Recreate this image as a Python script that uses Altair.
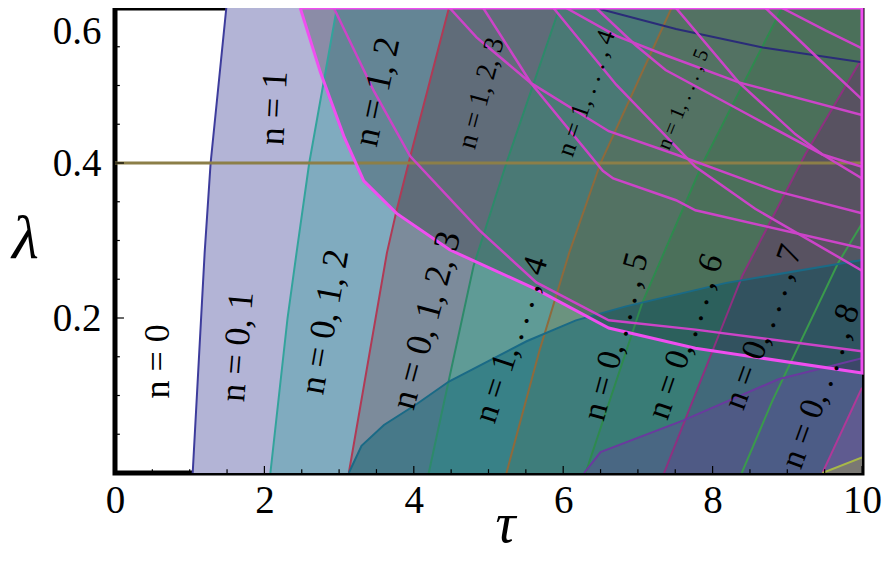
import altair as alt
import pandas as pd

# ---------------- axes / ticks ----------------
X_MAJOR = [0, 2, 4, 6, 8, 10]
X_MINOR = [0.5, 1, 1.5, 2.5, 3, 3.5, 4.5, 5, 5.5, 6.5, 7, 7.5, 8.5, 9, 9.5]
Y_MAJOR = [0.2, 0.4, 0.6]
Y_MINOR = [0.05, 0.1, 0.15, 0.25, 0.3, 0.35, 0.45, 0.5, 0.55]
TAU_MAX = 10.0
LAM_MAX = 0.6

# ---------------- band boundaries (tau read at lambda samples) ----------------
C1_LAM = [0, 0.284, 0.4, 0.6];          C1_TAU = [1.04, 1.2, 1.28, 1.49]
C2_LAM = [0, 0.2, 0.284, 0.4, 0.6];     C2_TAU = [2.08, 2.31, 2.43, 2.6, 2.97]
C3_LAM = [0, 0.284, 0.339, 0.4, 0.6];   C3_TAU = [3.13, 3.64, 3.77, 3.93, 4.47]
C4_LAM = [0, 0.267, 0.4, 0.6];          C4_TAU = [4.2, 4.8, 5.24, 5.95]
C5_LAM = [0, 0.157, 0.284, 0.4, 0.6];   C5_TAU = [5.24, 5.68, 6.08, 6.5, 7.45]
C6_LAM = [0, 0.22, 0.4, 0.6];           C6_TAU = [6.3, 7.06, 7.87, 8.93]
C7_LAM = [0, 0.255, 0.411, 0.535];      C7_TAU = [7.35, 8.4, 9.24, 10.0]
C8_LAM = [0, 0.093, 0.271, 0.322];      C8_TAU = [8.39, 8.8, 9.68, 10.0]
C9_LAM = [0, 0.11];                     C9_TAU = [9.47, 10.0]
BAND_CURVES = [(C1_TAU, C1_LAM), (C2_TAU, C2_LAM), (C3_TAU, C3_LAM), (C4_TAU, C4_LAM),
               (C5_TAU, C5_LAM), (C6_TAU, C6_LAM), (C7_TAU, C7_LAM), (C8_TAU, C8_LAM),
               (C9_TAU, C9_LAM)]
BAND_FILLS = ["#B3B4D6", "#80ABBF", "#7C8B9B", "#5F9B96", "#6B937F",
              "#609074", "#716A7D", "#68707F", "#A06E9A"]
BAND_LINES = ["#3D3C9C", "#33A39C", "#B03A55", "#2D8A6A", "#8E6A3C",
              "#2E8A4E", "#8E3080", "#3A9A4C", "#B03898"]

# ---------------- rising boundaries ----------------
R1_TAU = [3.13, 3.3, 3.6, 4.04, 4.47, 5.51, 6.17, 6.84, 8.17, 10.0]
R1_LAM = [0, 0.035, 0.062, 0.089, 0.118, 0.17, 0.197, 0.215, 0.245, 0.275]
R2_TAU = [6.28, 6.5, 7.6, 8.88, 10.0]
R2_LAM = [0, 0.027, 0.0675, 0.121, 0.148]
R3_TAU = [9.47, 10.0]
R3_LAM = [0, 0.02]
TOP_TAU = [6.44, 7.51, 8.67, 10.0]
TOP_LAM = [0.6, 0.573, 0.549, 0.53]
H_LINE = [0.4]

# ---------------- magenta curves ----------------
MA_TAU = [2.48, 2.75, 3.07, 3.33, 3.77, 4.48, 5.64, 6.61, 7.77, 10.0]
MA_LAM = [0.6, 0.517, 0.433, 0.377, 0.335, 0.288, 0.237, 0.187, 0.161, 0.129]
MB_TAU = [2.93, 3.47, 3.95, 4.88, 5.64, 6.61, 7.77, 10.0]
MB_LAM = [0.6, 0.492, 0.409, 0.313, 0.246, 0.197, 0.185, 0.157]
MC_TAU = [4.48, 4.84, 5.57, 6.61, 7.51, 8.84, 10.0]
MC_LAM = [0.6, 0.562, 0.503, 0.441, 0.411, 0.364, 0.335]
MD_TAU = [4.93, 5.57, 6.53, 6.67, 7.51, 7.77, 10.0]
MD_LAM = [0.6, 0.503, 0.39, 0.38, 0.352, 0.339, 0.29]
ME_TAU = [5.87, 6.71, 7.77, 8.57, 10.0]
ME_LAM = [0.6, 0.501, 0.395, 0.341, 0.261]
MF_TAU = [6.04, 6.71, 7.37, 8.35, 10.0]
MF_LAM = [0.6, 0.564, 0.539, 0.504, 0.462]
MG_TAU = [6.44, 6.97, 7.37, 8.35, 9.47, 10.0]
MG_LAM = [0.6, 0.552, 0.52, 0.469, 0.411, 0.395]
MH_TAU = [7.51, 8.35, 9.11, 9.47, 10.0]
MH_LAM = [0.6, 0.504, 0.437, 0.411, 0.38]
MI_TAU = [8.71, 9.37, 10.0]
MI_LAM = [0.6, 0.539, 0.482]
MJ_TAU = [8.93, 9.51, 10.0]
MJ_LAM = [0.6, 0.571, 0.548]
INNER_MAGENTA = [(MB_TAU, MB_LAM), (MC_TAU, MC_LAM), (MD_TAU, MD_LAM), (ME_TAU, ME_LAM),
                 (MF_TAU, MF_LAM), (MG_TAU, MG_LAM), (MH_TAU, MH_LAM), (MI_TAU, MI_LAM),
                 (MJ_TAU, MJ_LAM)]

# ---------------- labels ----------------
LBL_TEXT = ["n = 0", "n = 0, 1", "n = 1", "n = 1, 2", "n = 0, 1, 2", "n = 1, 2, 3",
            "n = 0, 1, 2, 3", "n = 1, . . . , 4", "n = 1, . . . , 5", "n = 1, . . . , 4",
            "n = 0, . . . , 5", "n = 0, . . . , 6", "n = 0, . . . , 7", "n = 0, . . . , 8"]
LBL_TAU = [0.57, 1.64, 2.13, 3.51, 2.81, 4.91, 4.17, 6.31, 7.61, 5.31, 6.71, 7.64, 8.68, 9.45]
LBL_LAM = [0.144, 0.163, 0.471, 0.492, 0.195, 0.49, 0.197, 0.49, 0.482, 0.172, 0.176, 0.176, 0.188, 0.112]
LBL_ANGLE = [270, 274.6, 273, 282, 280, 285, 285, 289, 292, 288, 285, 289, 290, 290]
LBL_SIZE = [36, 36, 36, 36, 36, 28, 36, 26, 21, 34, 34, 34, 34, 34]

# ---------------- chart ----------------
XS = alt.Scale(domain=[0, TAU_MAX], nice=False, zero=False)
YS = alt.Scale(domain=[0, LAM_MAX], nice=False, zero=False)
SERIF = "Liberation Serif"

x_axis = alt.Axis(values=X_MAJOR, title="τ", format="d", ticks=False, domain=False, grid=False,
                  labelFlush=False, labelFont=SERIF, labelFontSize=39, labelPadding=8,
                  labelColor="black", titleFont=SERIF, titleFontSize=56, titleFontStyle="italic",
                  titleFontWeight="normal", titleColor="black", titleX=390, titleY=68,
                  titleAlign="center", titleBaseline="alphabetic")
y_axis = alt.Axis(values=Y_MAJOR, title="λ", format=".1f", ticks=False, domain=False, grid=False,
                  labelFont=SERIF, labelFontSize=39, labelPadding=14, labelColor="black",
                  labelFlush=True, labelFlushOffset=-4, titleFont=SERIF, titleFontSize=62,
                  titleFontStyle="italic", titleFontWeight="normal", titleColor="black",
                  titleAngle=0, titleX=-90, titleY=230, titleAlign="center",
                  titleBaseline="middle")


def cdf(taus, lams):
    return pd.DataFrame({"tau": taus, "lam": lams, "i": list(range(len(taus))),
                         "right": [TAU_MAX] * len(taus), "base": [0] * len(taus)})


def X(f="tau"):
    return alt.X(f + ":Q", scale=XS, axis=x_axis)


def Y(f="lam"):
    return alt.Y(f + ":Q", scale=YS, axis=y_axis)


layers = []
# bands: region right of each boundary curve, painted in order
for (taus, lams), col in zip(BAND_CURVES, BAND_FILLS):
    layers.append(alt.Chart(cdf(taus, lams)).mark_area(
        orient="horizontal", color=col, opacity=1, clip=True, line=False).encode(
        y=Y(), x=X(), x2=alt.X2("right:Q")))

# rising overlays
for (taus, lams, col, op) in [(R1_TAU, R1_LAM, "#116878", 0.5), (R2_TAU, R2_LAM, "#6E3CA0", 0.32),
                              (R3_TAU, R3_LAM, "#B0B040", 0.35)]:
    layers.append(alt.Chart(cdf(taus, lams)).mark_area(color=col, opacity=op, clip=True).encode(
        x=X(), y=Y(), y2=alt.Y2("base:Q")))

# magenta region darkening
layers.append(alt.Chart(cdf(MA_TAU, MA_LAM)).mark_area(
    orient="horizontal", color="black", opacity=0.22, clip=True).encode(
    y=Y(), x=X(), x2=alt.X2("right:Q")))

# band boundary lines
for (taus, lams), col in zip(BAND_CURVES, BAND_LINES):
    layers.append(alt.Chart(cdf(taus, lams)).mark_line(color=col, strokeWidth=2, clip=True).encode(
        x=X(), y=Y(), order=alt.Order("i:Q")))
for (taus, lams, col) in [(R1_TAU, R1_LAM, "#1A6A86"), (R2_TAU, R2_LAM, "#6A3A9E"),
                          (R3_TAU, R3_LAM, "#A8B848"), (TOP_TAU, TOP_LAM, "#2A2C78")]:
    layers.append(alt.Chart(cdf(taus, lams)).mark_line(color=col, strokeWidth=2, clip=True).encode(
        x=X(), y=Y(), order=alt.Order("i:Q")))

layers.append(alt.Chart(pd.DataFrame({"lam": H_LINE})).mark_rule(
    color="#8C7F48", strokeWidth=3).encode(y=Y()))

# magenta curves
for taus, lams in INNER_MAGENTA:
    layers.append(alt.Chart(cdf(taus, lams)).mark_line(
        color="#CC44C8", strokeWidth=2.5, clip=True).encode(
        x=X(), y=Y(), order=alt.Order("i:Q")))
outer_tau = MA_TAU + [TAU_MAX, MA_TAU[0]]
outer_lam = MA_LAM + [LAM_MAX, LAM_MAX]
layers.append(alt.Chart(cdf(outer_tau, outer_lam)).mark_line(
    color="#F04EF0", strokeWidth=3).encode(x=X(), y=Y(), order=alt.Order("i:Q")))

# ticks (inward)
xt = pd.DataFrame({"tau": X_MAJOR + X_MINOR,
                   "l0": [0] * (len(X_MAJOR) + len(X_MINOR)),
                   "l1": [0.009] * len(X_MAJOR) + [0.005] * len(X_MINOR)})
yt = pd.DataFrame({"lam": Y_MAJOR + Y_MINOR,
                   "t0": [0] * (len(Y_MAJOR) + len(Y_MINOR)),
                   "t1": [0.12] * len(Y_MAJOR) + [0.065] * len(Y_MINOR)})
layers.append(alt.Chart(xt).mark_rule(color="black", strokeWidth=1.2).encode(
    x=X(), y=Y("l0"), y2=alt.Y2("l1:Q")))
layers.append(alt.Chart(yt).mark_rule(color="black", strokeWidth=1.2).encode(
    y=Y(), x=X("t0"), x2=alt.X2("t1:Q")))

# labels
lbl = pd.DataFrame({"text": LBL_TEXT, "tau": LBL_TAU, "lam": LBL_LAM,
                    "angle": LBL_ANGLE, "size": LBL_SIZE})
layers.append(alt.Chart(lbl).mark_text(font=SERIF, color="black", align="center",
                                       baseline="middle").encode(
    x=X(), y=Y(), text="text:N", angle=alt.Angle("angle:Q", scale=None),
    size=alt.Size("size:Q", scale=None)))

chart = alt.layer(*layers).properties(
    width=747, height=465,
    padding={"left": 107, "top": 0, "right": 21, "bottom": 83},
    autosize=alt.AutoSizeParams(type="none"),
    background="white",
).configure_view(stroke="black", strokeWidth=5)

chart.save("out.html", embed_options={"renderer": "svg", "actions": False})
